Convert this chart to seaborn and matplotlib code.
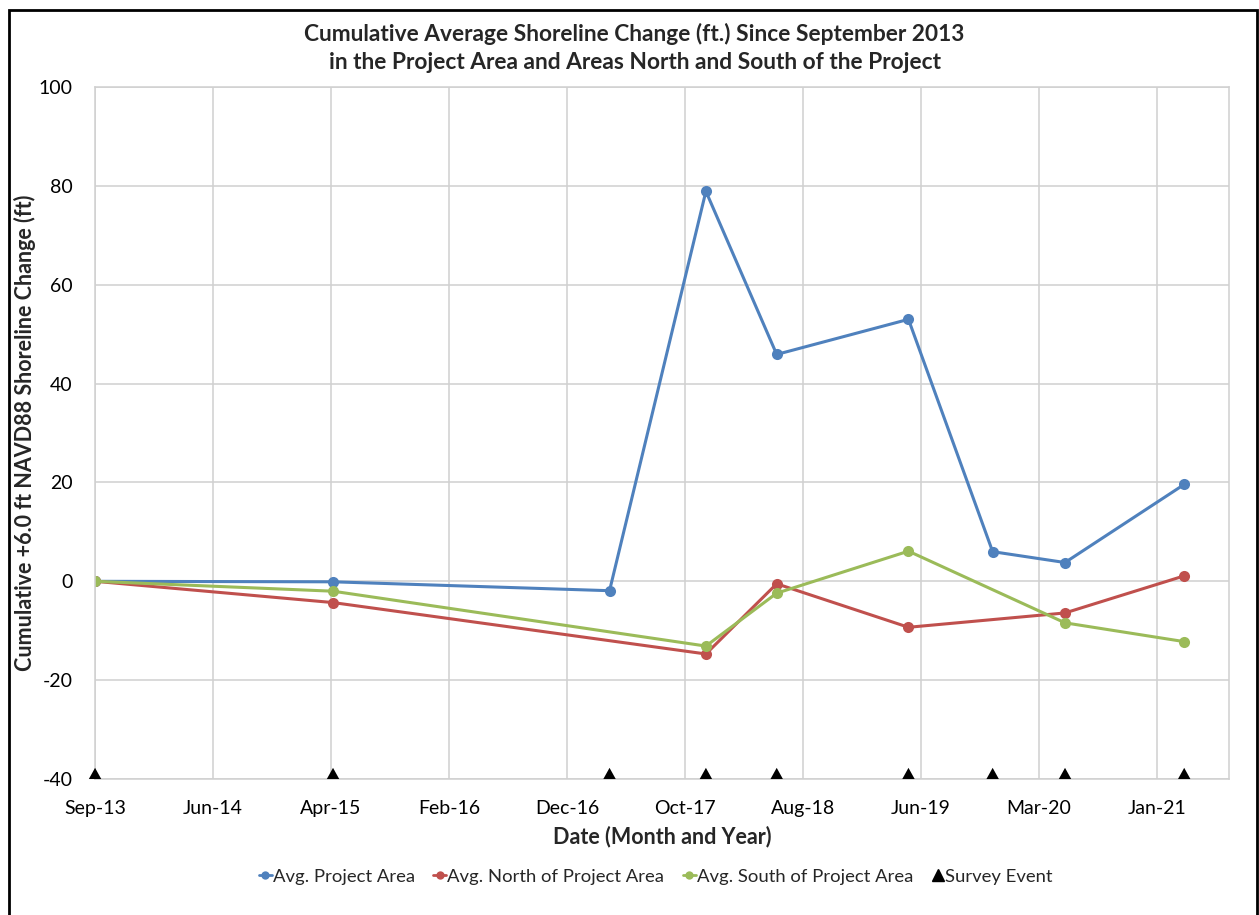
import pandas as pd
import numpy as np
import matplotlib
matplotlib.use('Agg')
import matplotlib.pyplot as plt
import matplotlib.dates as mdates
from matplotlib.patches import Rectangle
from matplotlib.lines import Line2D
import seaborn as sns

# survey dates and cumulative shoreline change (ft)
survey_dates = ['2013-09-01', '2015-04-29', '2017-04-01', '2017-12-02', '2018-05-31',
                '2019-05-01', '2019-12-01', '2020-06-02', '2021-04-01']
project_area = [0.0, -0.1, -1.9, 78.9, 45.9, 53.0, 6.0, 3.8, 19.6]
north_area = [0.0, -4.3, np.nan, -14.7, -0.5, -9.3, np.nan, -6.4, 1.1]
south_area = [0.0, -2.0, np.nan, -13.1, -2.4, 6.1, np.nan, -8.4, -12.2]
survey_level = [-40] * len(survey_dates)

series_names = ['Avg. Project Area', 'Avg. North of Project Area', 'Avg. South of Project Area']
series_colors = ['#4F81BD', '#C0504D', '#9BBB59']

# axis: ticks every 300 days starting Sep-13
axis_start = '2013-09-01'
tick_step_days = 300
n_ticks = 10
axis_end_days = 2883

df = pd.DataFrame({'date': pd.to_datetime(survey_dates),
                   series_names[0]: project_area,
                   series_names[1]: north_area,
                   series_names[2]: south_area,
                   'survey': survey_level})

sns.set_theme(style='white')
plt.rcParams['font.family'] = ['Lato', 'DejaVu Sans']
plt.rcParams['axes.unicode_minus'] = False

fig = plt.figure(figsize=(12.59, 9.15), dpi=100)
ax = fig.add_axes([0.0755, 0.1486, 0.9007, 0.7563])

for name, color in zip(series_names, series_colors):
    d = df[['date', name]].dropna()
    sns.lineplot(x=d['date'], y=d[name], ax=ax, color=color, linewidth=2.2,
                 marker='o', markersize=8, markeredgewidth=0, label=name, legend=False)

# survey event markers sitting on the bottom axis
tri = [(-1, 0), (1, 0), (0, 1.8)]
sns.scatterplot(x=df['date'], y=df['survey'], ax=ax, marker=tri, s=260, color='black',
                edgecolor='none', clip_on=False, zorder=5, legend=False)

start = mdates.date2num(pd.Timestamp(axis_start))
ticks = [start + tick_step_days * k for k in range(n_ticks)]
ax.set_xlim(start, start + axis_end_days)
ax.set_xticks(ticks)
ax.xaxis.set_major_formatter(mdates.DateFormatter('%b-%y'))
ax.set_ylim(-40, 100)
ax.set_yticks(range(-40, 101, 20))

ax.grid(True, color='#d0d0d0', linewidth=1.1)
ax.set_axisbelow(True)
for s in ax.spines.values():
    s.set_color('#d0d0d0')
    s.set_linewidth(1.1)
ax.tick_params(axis='both', labelsize=14, length=0, colors='black')
ax.tick_params(axis='x', pad=15)
ax.tick_params(axis='y', pad=16)

ax.set_xlabel('Date (Month and Year)', fontsize=15.5, fontweight='bold')
ax.xaxis.set_label_coords(0.5, -0.068)
ax.set_ylabel('Cumulative +6.0 ft NAVD88 Shoreline Change (ft)', fontsize=15.5,
              fontweight='bold')
ax.yaxis.set_label_coords(-0.052, 0.5)
fig.text(0.504, 0.9475, 'Cumulative Average Shoreline Change (ft.) Since September 2013\n'
         'in the Project Area and Areas North and South of the Project',
         ha='center', va='center', fontsize=16.4, fontweight='bold', linespacing=1.42)

handles = [Line2D([], [], color=c, marker='o', markersize=6, linewidth=2, markeredgewidth=0)
           for c in series_colors]
handles.append(Line2D([], [], color='black', marker='^', markersize=8, linestyle='none'))
fig.legend(handles, series_names + ['Survey Event'], loc='center', bbox_to_anchor=(0.521, 0.042),
           ncol=4, frameon=False, fontsize=13.3, handlelength=0.7, handletextpad=0.05,
           columnspacing=1.0)

fig.patches.append(Rectangle((9 / 1259, -0.01), 1248 / 1259, 1 - 10 / 915 + 0.01,
                             transform=fig.transFigure, fill=False, edgecolor='black',
                             linewidth=2))

fig.savefig('out.png', dpi=100)
